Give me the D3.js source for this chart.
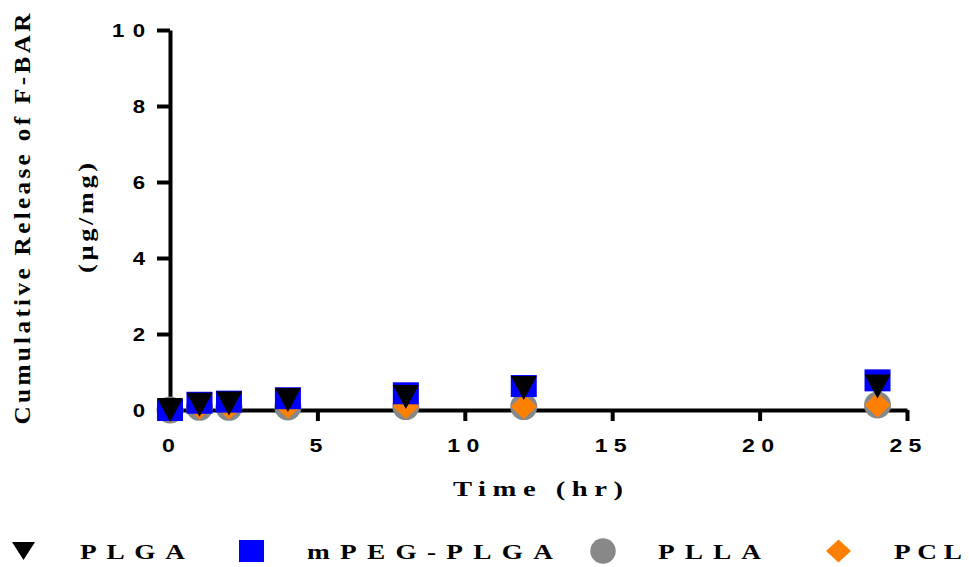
<!DOCTYPE html>
<html>
<head>
<meta charset="utf-8">
<script src="https://cdn.jsdelivr.net/npm/d3@7"></script>
<style>
  body { margin: 0; background: #fff; }
  svg { display: block; }
</style>
</head>
<body>
<div id="chart"></div>
<script>
// data
var times = [0, 1, 2, 4, 8, 12, 24];
var plga = [0, 0.14, 0.17, 0.26, 0.34, 0.58, 0.62];
var mpegPlga = [0, 0.19, 0.22, 0.31, 0.44, 0.63, 0.78];
var plla = [0, 0.07, 0.07, 0.08, 0.09, 0.09, 0.13];
var pcl = [0, 0.08, 0.08, 0.1, 0.09, 0.09, 0.13];
var xTicks = [0, 5, 10, 15, 20, 25];
var yTicks = [0, 2, 4, 6, 8, 10];
var seriesNames = ["PLGA", "mPEG-PLGA", "PLLA", "PCL"];

var width = 969, height = 567;
var serif = "'Liberation Serif', 'Times New Roman', serif";
var sans = "'Liberation Sans', Arial, sans-serif";

var svg = d3.select("#chart").append("svg")
  .attr("width", width)
  .attr("height", height);

var x = d3.scaleLinear().domain([0, 25]).range([170, 907]);
var y = d3.scaleLinear().domain([0, 10]).range([410, 30]);

// horizontally stretched, spaced text like the exported figure
function label(parent, str, tx, ty, o) {
  var g = parent.append("g")
    .attr("transform", "translate(" + tx + "," + ty + ")" + (o.rot ? " rotate(" + o.rot + ")" : "") + " scale(" + (o.sx || 1) + ",1)");
  var t = g.append("text")
    .attr("text-anchor", o.anchor || "start")
    .attr("fill", "#000")
    .style("font-family", o.font)
    .style("font-weight", "bold")
    .style("font-size", o.size + "px")
    .text(str);
  if (o.dy) t.attr("dy", o.dy);
  if (o.len) t.attr("textLength", o.len / (o.sx || 1)).attr("lengthAdjust", "spacing");
  return t;
}

// marker shapes (w, h in px)
function tri(w, h) { return "M" + (-w / 2) + "," + (-h / 2) + "L" + (w / 2) + "," + (-h / 2) + "L0," + (h / 2) + "Z"; }
function sq(w, h) { return "M" + (-w / 2) + "," + (-h / 2) + "h" + w + "v" + h + "h" + (-w) + "Z"; }
function dia(w, h) { return "M0," + (-h / 2) + "L" + (w / 2) + ",0L0," + (h / 2) + "L" + (-w / 2) + ",0Z"; }
function circ(w, h) { return d3.symbol().type(d3.symbolCircle).size(Math.PI * w * h / 4)(); }

var series = [
  { name: seriesNames[2], values: plla, color: "#888888", shape: circ, w: 27, h: 27, lw: 26, lh: 25 },
  { name: seriesNames[3], values: pcl, color: "#ff8000", shape: dia, w: 26, h: 25, lw: 25, lh: 23 },
  { name: seriesNames[1], values: mpegPlga, color: "#0000ff", shape: sq, w: 26, h: 22, lw: 25, lh: 22 },
  { name: seriesNames[0], values: plga, color: "#000000", shape: tri, w: 26, h: 24, lw: 23, lh: 18 }
];

// axes
var xAxis = svg.append("g")
  .attr("transform", "translate(0," + y(0) + ")")
  .call(d3.axisBottom(x).tickValues(xTicks).tickSize(11).tickSizeOuter(0));
var yAxis = svg.append("g")
  .attr("transform", "translate(" + x(0) + ",0)")
  .call(d3.axisLeft(y).tickValues(yTicks).tickSize(13).tickSizeOuter(0));

[xAxis, yAxis].forEach(function (g) {
  g.select(".domain").attr("stroke", "#000").attr("stroke-width", 4);
  g.selectAll(".tick line").attr("stroke", "#000").attr("stroke-width", 4);
  g.selectAll(".tick text").remove();
});
xAxis.selectAll(".tick").each(function (d) {
  var s = String(d);
  label(d3.select(this), s, -2, 42, { font: sans, size: 18.5, sx: 1.25, anchor: "middle", len: s.length > 1 ? 32 : 0 });
});
yAxis.selectAll(".tick").each(function (d) {
  var s = String(d);
  label(d3.select(this), s, -25, 0, { font: sans, size: 18.5, sx: 1.2, anchor: "end", dy: "0.36em", len: s.length > 1 ? 33 : 0 });
});

// points
series.forEach(function (s) {
  svg.append("g").selectAll("path")
    .data(times.map(function (t, i) { return [t, s.values[i]]; }))
    .enter().append("path")
    .attr("d", s.shape(s.w, s.h))
    .attr("transform", function (d) { return "translate(" + x(d[0]) + "," + y(d[1]) + ")"; })
    .attr("fill", s.color);
});

// axis titles
label(svg, "Time (hr)", 538, 496, { font: serif, size: 22, sx: 1.3, anchor: "middle", len: 170 });
label(svg, "Cumulative Release of F-BAR", 30, 219, { font: serif, size: 22.5, sx: 1.12, rot: -90, anchor: "middle", len: 411 });
label(svg, "(µg/mg)", 93, 218, { font: serif, size: 22, sx: 1.2, rot: -90, anchor: "middle", len: 110 });

// legend
var legend = [
  { s: series[3], mx: 23.5, tx: 80, tw: 105 },
  { s: series[2], mx: 251.5, tx: 307, tw: 246 },
  { s: series[0], mx: 603, tx: 658, tw: 103 },
  { s: series[1], mx: 838.5, tx: 894, tw: 68 }
];
var lg = svg.append("g");
legend.forEach(function (l) {
  lg.append("path")
    .attr("d", l.s.shape(l.s.lw, l.s.lh))
    .attr("transform", "translate(" + l.mx + ",551)")
    .attr("fill", l.s.color);
  label(lg, l.s.name, l.tx, 559, { font: serif, size: 21, sx: 1.3, len: l.tw });
});
</script>
</body>
</html>
